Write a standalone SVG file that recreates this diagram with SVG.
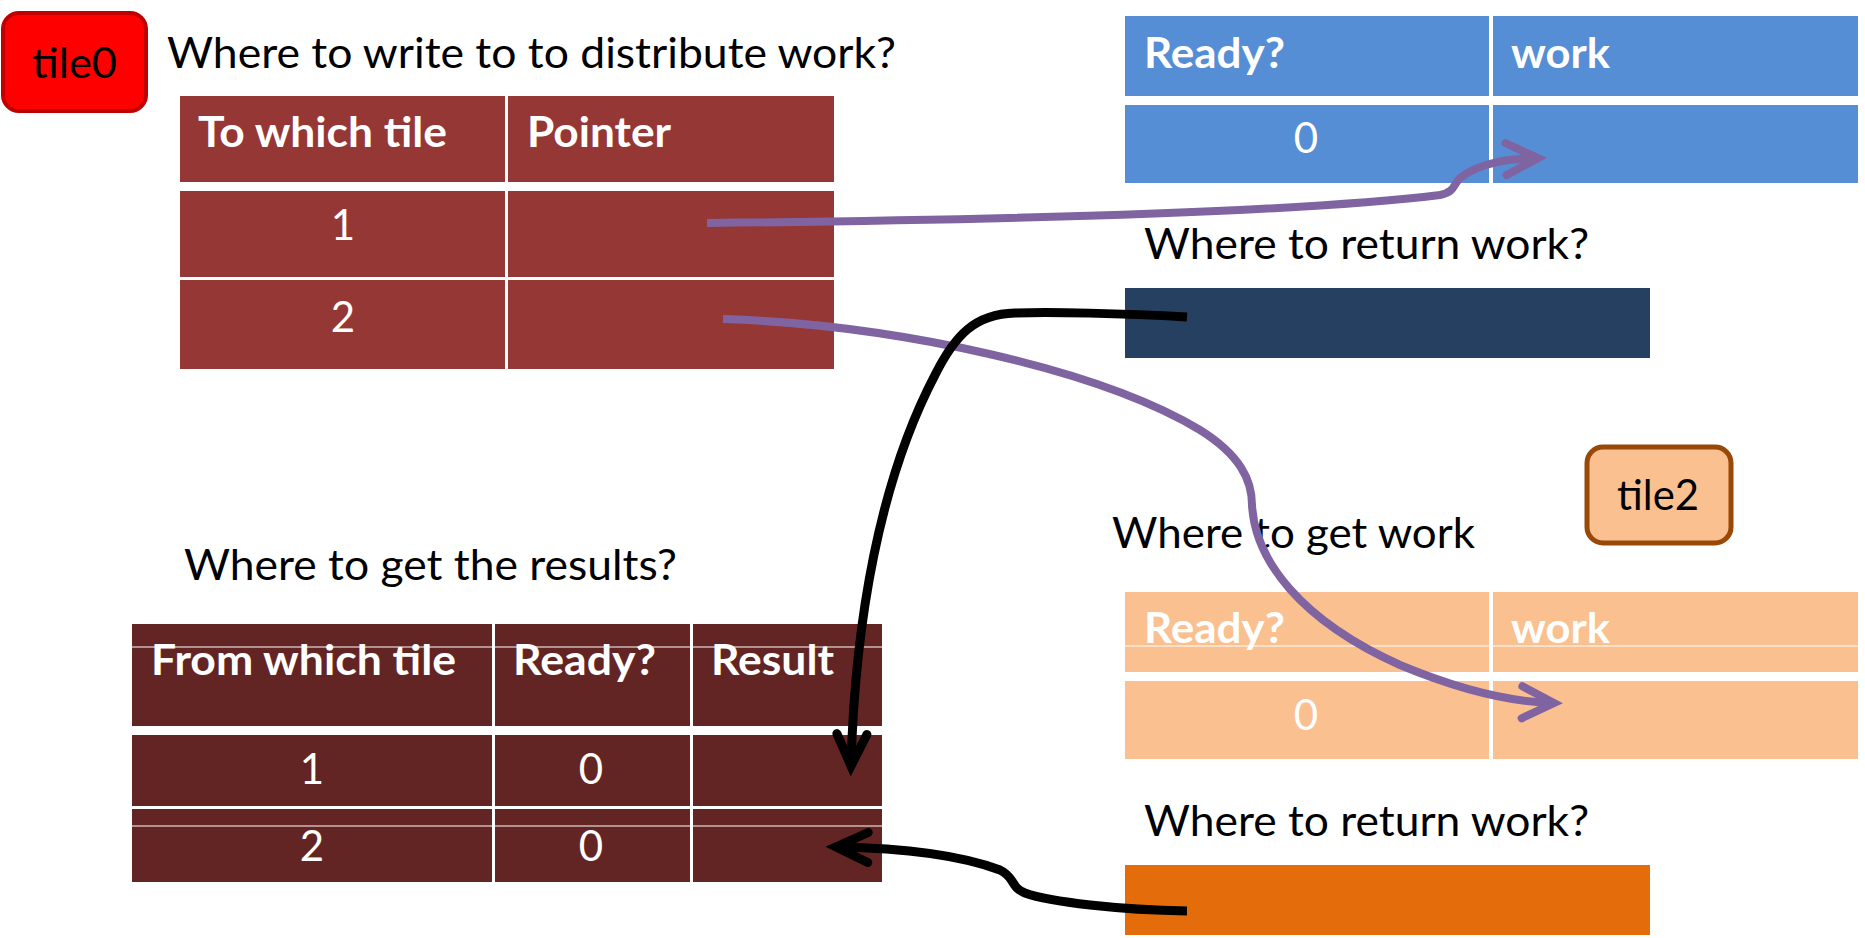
<svg xmlns="http://www.w3.org/2000/svg" width="1865" height="938" viewBox="0 0 1865 938">
  <style>
    text { font-family: Lato, "Liberation Sans", sans-serif; font-size: 42px; }
    .lbl { fill: #000000; }
    .hd { fill: #ffffff; font-weight: bold; }
    .num { fill: #ffffff; text-anchor: middle; }
    .t1 { fill: #953735; }
    .t3 { fill: #632523; }
    .blue { fill: #558ED5; }
    .peach { fill: #FAC090; }
    .sep { stroke: #ffffff; stroke-width: 1.2; }
    .ptr { fill: none; stroke: #8064A2; stroke-width: 8; stroke-linecap: butt; }
    .ret { fill: none; stroke: #000000; stroke-width: 9; stroke-linecap: butt; }
  </style>
  <defs>
    <marker id="headPurple" markerUnits="userSpaceOnUse" markerWidth="60" markerHeight="60" refX="40" refY="30" orient="auto" overflow="visible">
      <path d="M8,14 L40,30 L8,46" fill="none" stroke="#8064A2" stroke-width="8" stroke-linecap="round" stroke-linejoin="miter"/>
    </marker>
    <marker id="headBlack" markerUnits="userSpaceOnUse" markerWidth="60" markerHeight="60" refX="40" refY="30" orient="auto" overflow="visible">
      <path d="M8,15 L40,30 L8,45" fill="none" stroke="#000000" stroke-width="9" stroke-linecap="round" stroke-linejoin="miter"/>
    </marker>
  </defs>

  <rect width="1865" height="938" fill="#ffffff"/>

  <!-- tile0 badge -->
  <g id="tile0">
    <rect x="3" y="13" width="143" height="98" rx="16" fill="#FF0000" stroke="#C00000" stroke-width="4"/>
    <text class="lbl" x="32" y="78" textLength="85" lengthAdjust="spacingAndGlyphs">tile0</text>
  </g>

  <!-- tile0: distribution table -->
  <g id="distribute-table">
    <text class="lbl" x="167" y="68" textLength="729" lengthAdjust="spacingAndGlyphs">Where to write to to distribute work?</text>
    <rect class="t1" x="180" y="96" width="325" height="86"/>
    <rect class="t1" x="508" y="96" width="326" height="86"/>
    <rect class="t1" x="180" y="191" width="325" height="86"/>
    <rect class="t1" x="508" y="191" width="326" height="86"/>
    <rect class="t1" x="180" y="280" width="325" height="89"/>
    <rect class="t1" x="508" y="280" width="326" height="89"/>
    <text class="hd" x="198" y="147" textLength="249" lengthAdjust="spacingAndGlyphs">To which tile</text>
    <text class="hd" x="527" y="147" textLength="144" lengthAdjust="spacingAndGlyphs">Pointer</text>
    <text class="num" x="343" y="240">1</text>
    <text class="num" x="343" y="332">2</text>
  </g>

  <!-- tile0: results table -->
  <g id="results-table">
    <text class="lbl" x="184" y="580" textLength="493" lengthAdjust="spacingAndGlyphs">Where to get the results?</text>
    <rect class="t3" x="132" y="624" width="360" height="102"/>
    <rect class="t3" x="495" y="624" width="195" height="102"/>
    <rect class="t3" x="693" y="624" width="189" height="102"/>
    <line class="sep" x1="132" y1="647" x2="882" y2="647"/>
    <rect class="t3" x="132" y="735" width="360" height="71"/>
    <rect class="t3" x="495" y="735" width="195" height="71"/>
    <rect class="t3" x="693" y="735" width="189" height="71"/>
    <rect class="t3" x="132" y="809" width="360" height="73"/>
    <rect class="t3" x="495" y="809" width="195" height="73"/>
    <rect class="t3" x="693" y="809" width="189" height="73"/>
    <line class="sep" x1="132" y1="826" x2="882" y2="826"/>
    <text class="hd" x="151" y="675" textLength="305" lengthAdjust="spacingAndGlyphs">From which tile</text>
    <text class="hd" x="513" y="675" textLength="143" lengthAdjust="spacingAndGlyphs">Ready?</text>
    <text class="hd" x="711" y="675" textLength="123" lengthAdjust="spacingAndGlyphs">Result</text>
    <text class="num" x="312" y="784">1</text>
    <text class="num" x="591" y="784">0</text>
    <text class="num" x="312" y="861">2</text>
    <text class="num" x="591" y="861">0</text>
  </g>

  <!-- tile1: work mailbox -->
  <g id="tile1-work">
    <rect class="blue" x="1125" y="16" width="364" height="80"/>
    <rect class="blue" x="1493" y="16" width="365" height="80"/>
    <rect class="blue" x="1125" y="105" width="364" height="78"/>
    <rect class="blue" x="1493" y="105" width="365" height="78"/>
    <text class="hd" x="1144" y="68" textLength="141" lengthAdjust="spacingAndGlyphs">Ready?</text>
    <text class="hd" x="1511" y="68" textLength="99" lengthAdjust="spacingAndGlyphs">work</text>
    <text class="num" x="1306" y="153">0</text>
  </g>

  <!-- tile1: return slot -->
  <g id="tile1-return">
    <text class="lbl" x="1144" y="259" textLength="445" lengthAdjust="spacingAndGlyphs">Where to return work?</text>
    <rect x="1125" y="288" width="525" height="70" fill="#254061"/>
  </g>

  <!-- tile2 badge -->
  <g id="tile2">
    <rect x="1587" y="447" width="144" height="96" rx="16" fill="#FAC090" stroke="#984807" stroke-width="5"/>
    <text class="lbl" x="1617" y="510" textLength="82" lengthAdjust="spacingAndGlyphs">tile2</text>
  </g>

  <!-- tile2: work mailbox -->
  <g id="tile2-work">
    <text class="lbl" x="1112" y="548" textLength="363" lengthAdjust="spacingAndGlyphs">Where to get work</text>
    <rect class="peach" x="1125" y="592" width="364" height="80"/>
    <rect class="peach" x="1493" y="592" width="365" height="80"/>
    <line class="sep" x1="1125" y1="646" x2="1858" y2="646"/>
    <rect class="peach" x="1125" y="681" width="364" height="78"/>
    <rect class="peach" x="1493" y="681" width="365" height="78"/>
    <text class="hd" x="1144" y="643" textLength="141" lengthAdjust="spacingAndGlyphs">Ready?</text>
    <text class="hd" x="1511" y="643" textLength="99" lengthAdjust="spacingAndGlyphs">work</text>
    <text class="num" x="1306" y="730">0</text>
  </g>

  <!-- tile2: return slot -->
  <g id="tile2-return">
    <text class="lbl" x="1144" y="836" textLength="445" lengthAdjust="spacingAndGlyphs">Where to return work?</text>
    <rect x="1125" y="865" width="525" height="70" fill="#E46C0A"/>
  </g>

  <!-- connectors -->
  <g id="connectors">
    <path class="ptr" marker-end="url(#headPurple)" d="M707,223 C1000,220 1300,212 1440,195 C1455,192 1453,185 1460,178 C1480,162 1510,159 1538,158"/>
    <path class="ptr" marker-end="url(#headPurple)" d="M723,319 C900,325 1100,370 1200,430 C1240,455 1252,480 1252,505 C1255,560 1300,620 1400,665 C1460,690 1510,702 1554,703"/>
    <path class="ret" marker-end="url(#headBlack)" d="M1187,317 C1120,313 1050,312 1015,313 C975,314 955,335 935,375 C880,480 855,620 851,766"/>
    <path class="ret" marker-end="url(#headBlack)" d="M1187,911 C1120,910 1050,902 1025,893 C1010,887 1015,877 1000,870 C960,855 900,848 836,847"/>
  </g>
</svg>
